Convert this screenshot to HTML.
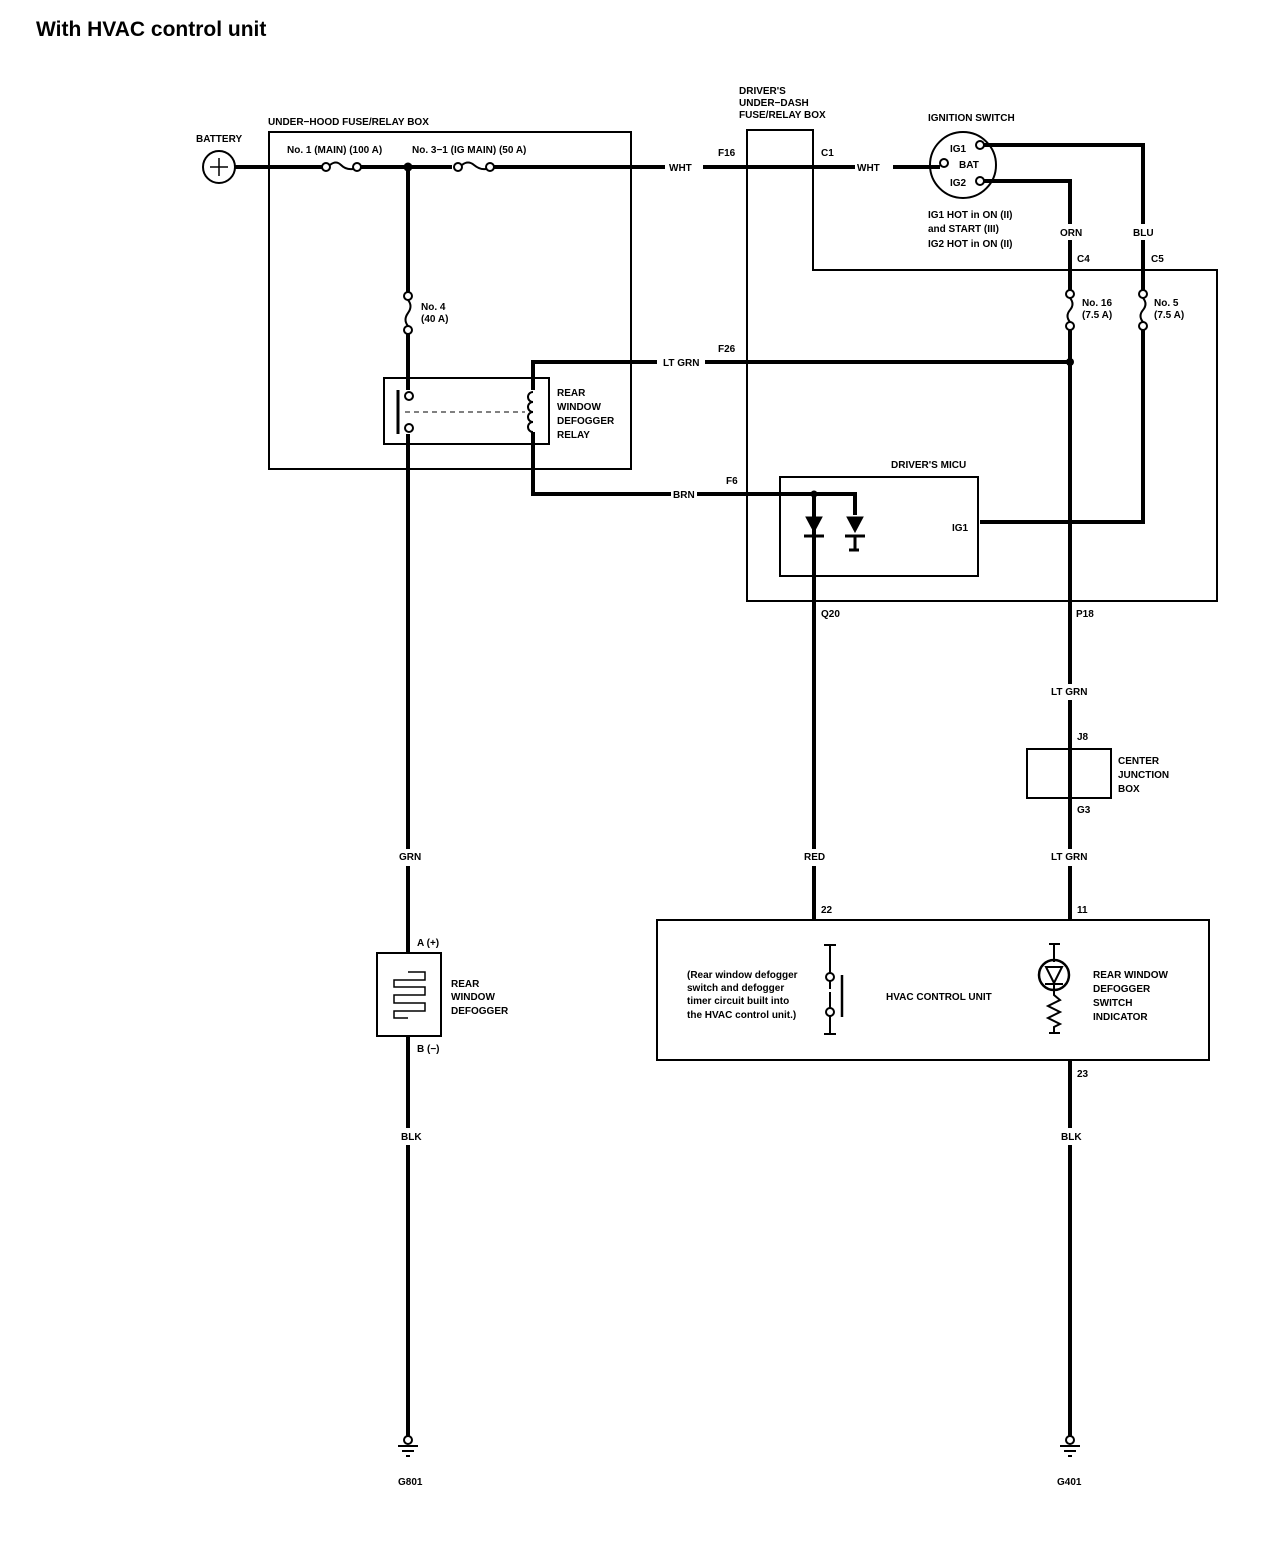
<!DOCTYPE html>
<html><head><meta charset="utf-8"><style>
html,body{margin:0;padding:0;background:#fff;}
svg{display:block}
text{font-family:"Liberation Sans Narrow","Liberation Sans",sans-serif;font-weight:bold;font-size:10px;fill:#000}
.t{font-family:"Liberation Sans",sans-serif;font-size:21px}
</style></head><body>
<svg width="1280" height="1558" viewBox="0 0 1280 1558" xmlns="http://www.w3.org/2000/svg">
<text class="t" x="36" y="36">With HVAC control unit</text>
<g fill="none" stroke="#000">
<rect x="269" y="132" width="362" height="337" stroke-width="2"/>
<rect x="384" y="378" width="165" height="66" stroke-width="2"/>
<path d="M747 601 V130 H813 V270 H1217 V601 Z" stroke-width="2"/>
<rect x="780" y="477" width="198" height="99" stroke-width="2"/>
<rect x="1027" y="749" width="84" height="49" stroke-width="2"/>
<rect x="657" y="920" width="552" height="140" stroke-width="2"/>
<rect x="377" y="953" width="64" height="83" stroke-width="2"/>
<circle cx="219" cy="167" r="16" stroke-width="2"/>
<circle cx="963" cy="165" r="33" stroke-width="2"/>
<g stroke-width="4">
<path d="M235 167 H322 M360 167 H452 M494 167 H665 M703 167 H855 M893 167 H940"/>
<path d="M408 167 V292 M408 334 V390 M408 434 V849 M408 866 V953"/>
<path d="M408 1036 V1128 M408 1145 V1436"/>
<path d="M533 390 V362 H657 M705 362 H1070"/>
<path d="M533 432 V494 H671 M697 494 H855 V515"/>
<path d="M814 494 V849 M814 866 V920"/>
<path d="M984 145 H1143 V224 M1143 240 V290 M1143 330 V522 H980"/>
<path d="M984 181 H1070 V224 M1070 240 V290 M1070 330 V684 M1070 700 V849 M1070 866 V920"/>
<path d="M1070 1060 V1128 M1070 1145 V1436"/>
</g>
<g stroke-width="2">
<circle cx="326" cy="167" r="4" fill="#fff"/><circle cx="357" cy="167" r="4" fill="#fff"/>
<path d="M330 165 Q336 160 341 165 T353 169"/>
<circle cx="458" cy="167" r="4" fill="#fff"/><circle cx="490" cy="167" r="4" fill="#fff"/>
<path d="M462 165 Q468 160 474 165 T486 169"/>
<circle cx="408" cy="296" r="4" fill="#fff"/><circle cx="408" cy="330" r="4" fill="#fff"/>
<path d="M408 300 Q413 306 408 313 T408 326"/>
<circle cx="1070" cy="294" r="4" fill="#fff"/><circle cx="1070" cy="326" r="4" fill="#fff"/>
<path d="M1070 298 Q1075 304 1070 310 T1070 322"/>
<circle cx="1143" cy="294" r="4" fill="#fff"/><circle cx="1143" cy="326" r="4" fill="#fff"/>
<path d="M1143 298 Q1148 304 1143 310 T1143 322"/>
<circle cx="409" cy="396" r="4" fill="#fff"/><circle cx="409" cy="428" r="4" fill="#fff"/>
<path d="M398 390 V434" stroke-width="3"/>
<path d="M405 412 H525" stroke-dasharray="5 4" stroke-width="1"/>
<path d="M533 392 a5 5 0 1 0 0 10 a5 5 0 1 0 0 10 a5 5 0 1 0 0 10 a5 5 0 1 0 0 10"/>
<circle cx="980" cy="145" r="4" fill="#fff"/><circle cx="944" cy="163" r="4" fill="#fff"/><circle cx="980" cy="181" r="4" fill="#fff"/>
<path d="M408 972 H425 V980 H394 V987 H425 V995 H394 V1003 H425 V1011 H394 V1018 H408" stroke-width="1.5"/>
<path d="M824 945 H836 M830 945 V974 M830 994 V1034 M824 1034 H836 M830 980 V988" />
<circle cx="830" cy="977" r="4" fill="#fff"/><circle cx="830" cy="1012" r="4" fill="#fff"/>
<path d="M830 980 V1008" stroke-dasharray="3 3"/>
<path d="M842 975 V1017" stroke-width="2.5"/>
<path d="M1049 944 H1060 M1054 944 V962"/>
<circle cx="1054" cy="975" r="15" stroke-width="2.5"/>
<path d="M1046 967 H1062 L1054 983 Z M1045 984 H1063" stroke-width="2"/>
<path d="M1054 984 V995 L1060 1000 L1048 1006 L1060 1012 L1048 1018 L1060 1024 L1054 1027 V1033 M1049 1033 H1060"/>
<path d="M398 1446 H418 M402 1451 H414 M406 1456 H410" stroke-width="2"/>
<path d="M1060 1446 H1080 M1064 1451 H1076 M1068 1456 H1072" stroke-width="2"/>
</g>
</g>
<circle cx="408" cy="1440" r="4" fill="#fff" stroke="#000" stroke-width="2"/>
<circle cx="1070" cy="1440" r="4" fill="#fff" stroke="#000" stroke-width="2"/>
<path d="M210 167 H228 M219 158 V176" stroke="#000" stroke-width="1.5"/>
<g fill="#000" stroke="#000" stroke-width="3">
<path d="M806 517 H822 L814 532 Z" stroke-width="1"/>
<path d="M804 536 H824"/>
<path d="M847 517 H863 L855 532 Z" stroke-width="1"/>
<path d="M845 536 H865 M855 536 V550 M849 550 H859" />
</g>
<circle cx="408" cy="167" r="4.5" fill="#000"/><circle cx="1070" cy="362" r="4" fill="#000"/><circle cx="814" cy="494" r="3.5" fill="#000"/>
<text x="196" y="142">BATTERY</text>
<text x="268" y="125">UNDER−HOOD FUSE/RELAY BOX</text>
<text x="287" y="153">No. 1 (MAIN) (100 A)</text>
<text x="412" y="153">No. 3−1 (IG MAIN) (50 A)</text>
<text x="421" y="310">No. 4</text><text x="421" y="322">(40 A)</text>
<text x="557" y="396">REAR</text><text x="557" y="410">WINDOW</text><text x="557" y="424">DEFOGGER</text><text x="557" y="438">RELAY</text>
<text x="669" y="171">WHT</text><text x="718" y="156">F16</text>
<text x="821" y="156">C1</text><text x="857" y="171">WHT</text>
<text x="739" y="94">DRIVER'S</text><text x="739" y="106">UNDER−DASH</text><text x="739" y="118">FUSE/RELAY BOX</text>
<text x="928" y="121">IGNITION SWITCH</text>
<text x="950" y="152">IG1</text><text x="959" y="168">BAT</text><text x="950" y="186">IG2</text>
<text x="928" y="218">IG1 HOT in ON (II)</text><text x="928" y="232">and START (III)</text><text x="928" y="247">IG2 HOT in ON (II)</text>
<text x="1060" y="236">ORN</text><text x="1133" y="236">BLU</text>
<text x="1077" y="262">C4</text><text x="1151" y="262">C5</text>
<text x="1082" y="306">No. 16</text><text x="1082" y="318">(7.5 A)</text>
<text x="1154" y="306">No. 5</text><text x="1154" y="318">(7.5 A)</text>
<text x="663" y="366">LT GRN</text><text x="718" y="352">F26</text>
<text x="673" y="498">BRN</text><text x="726" y="484">F6</text>
<text x="891" y="468">DRIVER'S MICU</text>
<text x="952" y="531">IG1</text>
<text x="821" y="617">Q20</text><text x="1076" y="617">P18</text>
<text x="1051" y="695">LT GRN</text>
<text x="1077" y="740">J8</text>
<text x="1118" y="764">CENTER</text><text x="1118" y="778">JUNCTION</text><text x="1118" y="792">BOX</text>
<text x="1077" y="813">G3</text>
<text x="1051" y="860">LT GRN</text><text x="804" y="860">RED</text><text x="399" y="860">GRN</text>
<text x="821" y="913">22</text><text x="1077" y="913">11</text><text x="1077" y="1077">23</text>
<text x="417" y="946">A (+)</text><text x="417" y="1052">B (−)</text>
<text x="451" y="987">REAR</text><text x="451" y="1000">WINDOW</text><text x="451" y="1014">DEFOGGER</text>
<text x="687" y="978">(Rear window defogger</text><text x="687" y="991">switch and defogger</text><text x="687" y="1004">timer circuit built into</text><text x="687" y="1018">the HVAC control unit.)</text>
<text x="886" y="1000">HVAC CONTROL UNIT</text>
<text x="1093" y="978">REAR WINDOW</text><text x="1093" y="992">DEFOGGER</text><text x="1093" y="1006">SWITCH</text><text x="1093" y="1020">INDICATOR</text>
<text x="401" y="1140">BLK</text><text x="1061" y="1140">BLK</text>
<text x="398" y="1485">G801</text><text x="1057" y="1485">G401</text>
</svg>
</body></html>
